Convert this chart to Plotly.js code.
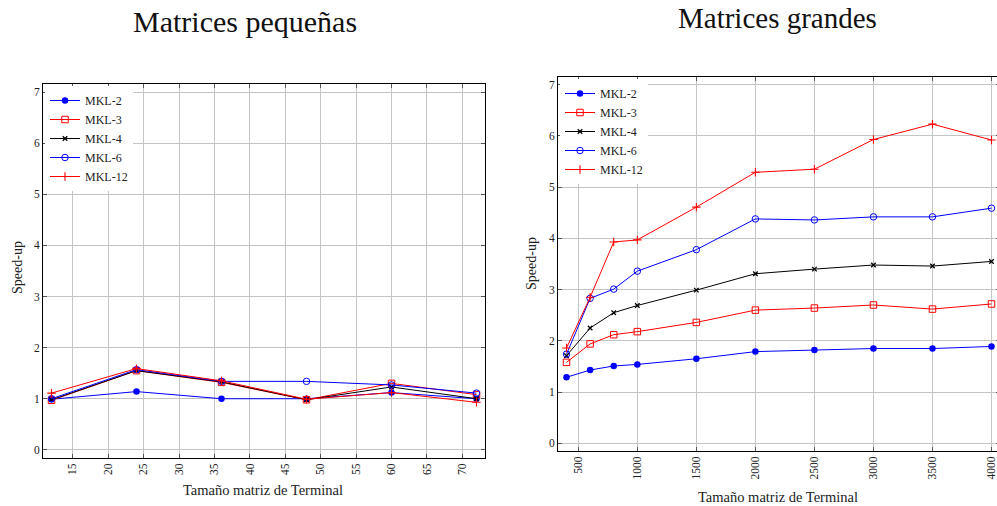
<!DOCTYPE html>
<html>
<head>
<meta charset="utf-8">
<script src="https://cdn.plot.ly/plotly-3.0.1.min.js"></script>
<style>html,body{margin:0;padding:0;overflow:hidden;background:#fff}#chart{width:1003px;height:506px}</style>
</head>
<body>
<div id="chart"></div>
<script>
// ---- Data: small matrices ----
const smallX = [12, 24, 36, 48, 60, 72];
const smallMKL2  = [0.99, 1.14, 1.00, 1.00, 1.12, 1.00];
const smallMKL3  = [0.97, 1.55, 1.32, 0.98, 1.30, 1.08];
const smallMKL4  = [0.98, 1.55, 1.33, 0.98, 1.23, 1.00];
const smallMKL6  = [1.00, 1.57, 1.34, 1.34, 1.27, 1.11];
const smallMKL12 = [1.11, 1.59, 1.35, 0.99, 1.12, 0.93];
const smallXTicks = [15, 20, 25, 30, 35, 40, 45, 50, 55, 60, 65, 70];

// ---- Data: large matrices ----
const largeX = [400, 600, 800, 1000, 1500, 2000, 2500, 3000, 3500, 4000];
const largeMKL2  = [1.29, 1.43, 1.51, 1.54, 1.65, 1.79, 1.82, 1.85, 1.85, 1.89];
const largeMKL3  = [1.58, 1.94, 2.12, 2.18, 2.36, 2.60, 2.64, 2.70, 2.62, 2.72];
const largeMKL4  = [1.71, 2.25, 2.55, 2.69, 2.99, 3.31, 3.40, 3.48, 3.46, 3.55];
const largeMKL6  = [1.74, 2.83, 3.01, 3.36, 3.78, 4.38, 4.36, 4.42, 4.42, 4.59];
const largeMKL12 = [1.86, 2.85, 3.93, 3.97, 4.61, 5.29, 5.35, 5.93, 6.23, 5.92];
const largeXTicks = [500, 1000, 1500, 2000, 2500, 3000, 3500, 4000];

const yTicks = [0, 1, 2, 3, 4, 5, 6, 7];
const seriesNames = ['MKL-2', 'MKL-3', 'MKL-4', 'MKL-6', 'MKL-12'];
const titleSmall = 'Matrices pequeñas';
const titleLarge = 'Matrices grandes';
const xTitle = 'Tamaño matriz de Terminal';
const yTitle = 'Speed-up';

// ---- Styles ----
const FONT = 'Liberation Serif, Times New Roman, serif';
const styles = [
  {color: '#0000ff', symbol: 'circle', size: 6.5, lw: 0},
  {color: '#ff0000', symbol: 'square-open', size: 6.5, lw: 1},
  {color: '#000000', symbol: 'x-thin', size: 4.5, lw: 1.3},
  {color: '#0000ff', symbol: 'circle-open', size: 6.5, lw: 1},
  {color: '#ff0000', symbol: 'cross-thin', size: 6, lw: 1.1}
];

function mk(x, y, i, xa, ya, leg) {
  const s = styles[i];
  return {
    x: x, y: y, name: seriesNames[i], type: 'scatter', mode: 'lines+markers',
    xaxis: xa, yaxis: ya, legend: leg,
    line: {color: s.color, width: 1},
    marker: {color: s.color, symbol: s.symbol, size: s.size,
             line: {color: s.color, width: s.lw}}
  };
}

const smallY = [smallMKL2, smallMKL3, smallMKL4, smallMKL6, smallMKL12];
const largeY = [largeMKL2, largeMKL3, largeMKL4, largeMKL6, largeMKL12];
const traces = [];
smallY.forEach((y, i) => traces.push(mk(smallX, y, i, 'x', 'y', 'legend')));
largeY.forEach((y, i) => traces.push(mk(largeX, y, i, 'x2', 'y2', 'legend2')));

const W = 1003, H = 506;
const px = v => v / W, py = v => 1 - v / H;

const axBase = {
  showline: true, linecolor: '#000', linewidth: 1, mirror: 'ticks',
  ticks: 'inside', ticklen: 4, tickcolor: '#555', tickwidth: 1,
  showgrid: true, gridcolor: '#c4c4c4', gridwidth: 1, zeroline: false,
  tickfont: {family: FONT, size: 11.5, color: '#222'}, automargin: false,
  fixedrange: true
};

const legBase = {
  bgcolor: '#ffffff', borderwidth: 0, font: {family: FONT, size: 12, color: '#222'},
  xanchor: 'left', yanchor: 'top', tracegroupgap: 0, itemwidth: 30
};

const layout = {
  width: W, height: H, margin: {l: 0, r: 0, t: 0, b: 0},
  paper_bgcolor: '#fff', plot_bgcolor: '#fff', showlegend: true,
  xaxis: Object.assign({}, axBase, {domain: [px(43), px(485)], range: [10.8, 73.2],
    tickmode: 'array', tickvals: smallXTicks, ticktext: smallXTicks.map(String), tickangle: -90, anchor: 'y'}),
  yaxis: Object.assign({}, axBase, {domain: [1 - 458 / H, 1 - 84 / H], range: [-0.16, 7.16],
    tickmode: 'array', tickvals: yTicks, ticktext: yTicks.map(String), anchor: 'x'}),
  xaxis2: Object.assign({}, axBase, {domain: [px(558), px(1000)], range: [328, 4072],
    tickmode: 'array', tickvals: largeXTicks, ticktext: largeXTicks.map(String), tickangle: -90, anchor: 'y2'}),
  yaxis2: Object.assign({}, axBase, {domain: [1 - 451 / H, 1 - 77 / H], range: [-0.15, 7.15],
    tickmode: 'array', tickvals: yTicks, ticktext: yTicks.map(String), anchor: 'x2'}),
  legend: Object.assign({}, legBase, {x: px(45), y: py(86)}),
  legend2: Object.assign({}, legBase, {x: px(560), y: py(79)}),
  annotations: [
    {text: titleSmall, x: px(245), y: py(22), xref: 'paper', yref: 'paper', showarrow: false,
     xanchor: 'center', yanchor: 'middle', font: {family: FONT, size: 30, color: '#111'}},
    {text: titleLarge, x: px(777), y: py(18), xref: 'paper', yref: 'paper', showarrow: false,
     xanchor: 'center', yanchor: 'middle', font: {family: FONT, size: 29, color: '#111'}},
    {text: xTitle, x: px(263), y: py(490), xref: 'paper', yref: 'paper', showarrow: false,
     xanchor: 'center', yanchor: 'middle', font: {family: FONT, size: 14.5, color: '#222'}},
    {text: xTitle, x: px(778), y: py(497), xref: 'paper', yref: 'paper', showarrow: false,
     xanchor: 'center', yanchor: 'middle', font: {family: FONT, size: 14.5, color: '#222'}},
    {text: yTitle, x: px(17), y: py(268), xref: 'paper', yref: 'paper', showarrow: false,
     textangle: -90, xanchor: 'center', yanchor: 'middle', font: {family: FONT, size: 14, color: '#222'}},
    {text: yTitle, x: px(531), y: py(264), xref: 'paper', yref: 'paper', showarrow: false,
     textangle: -90, xanchor: 'center', yanchor: 'middle', font: {family: FONT, size: 14, color: '#222'}}
  ]
};

Plotly.newPlot('chart', traces, layout, {displayModeBar: false, staticPlot: true});
</script>
</body>
</html>
